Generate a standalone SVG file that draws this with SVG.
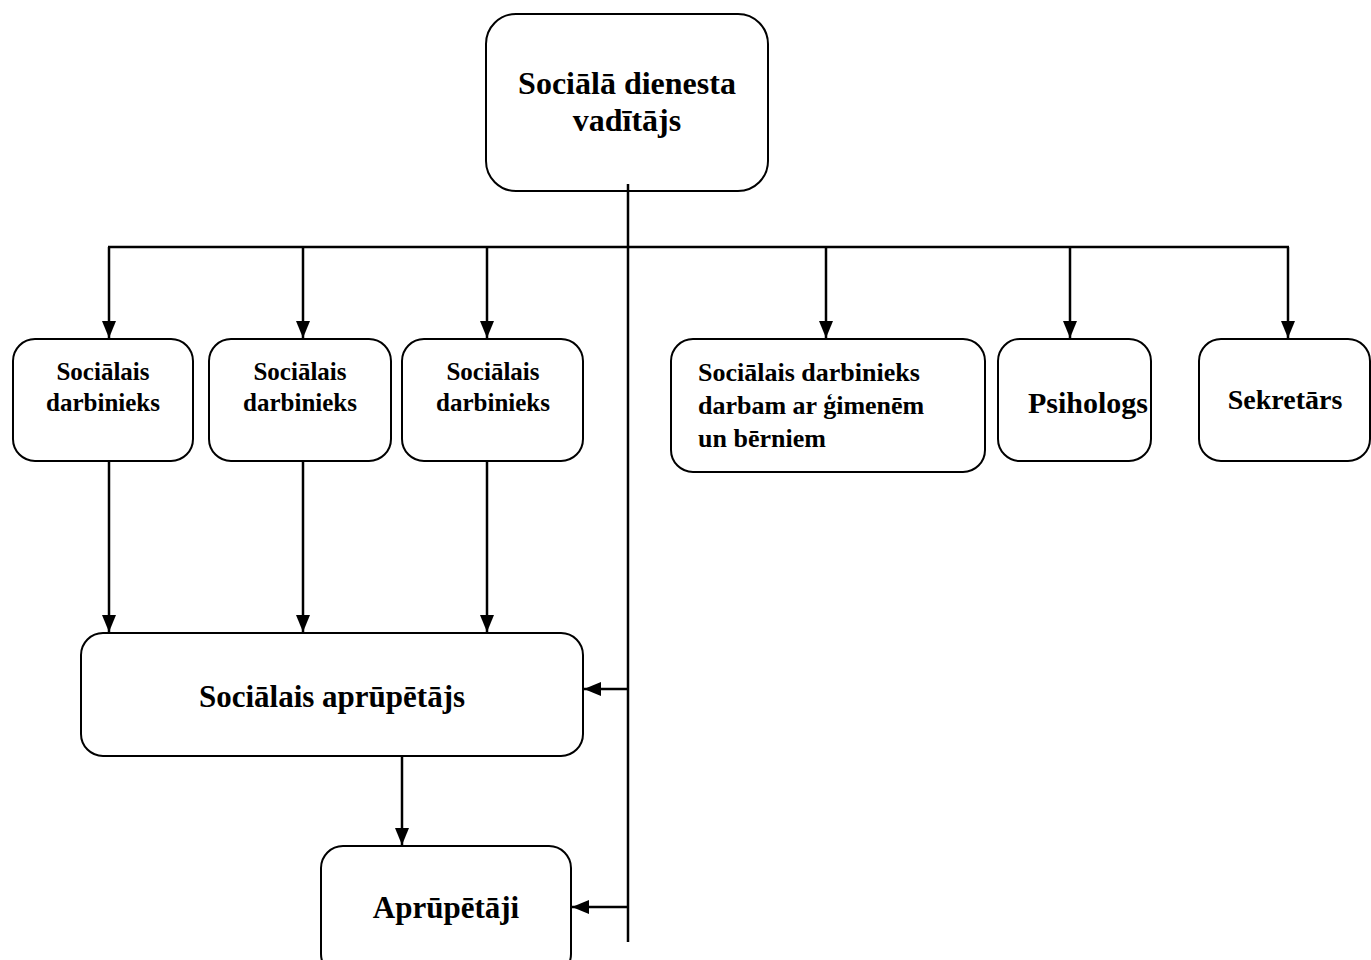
<svg xmlns="http://www.w3.org/2000/svg" width="1371" height="960" viewBox="0 0 1371 960">
<style>
.box{fill:#fff;stroke:#000;stroke-width:2}
.t{font-family:"Liberation Serif","Times New Roman",serif;font-weight:bold;fill:#000}
.c{text-anchor:middle}
.ln{fill:none;stroke:#000;stroke-width:2.5}
</style>
<defs>
<marker id="ah" viewBox="0 0 17 14" refX="17" refY="7" markerWidth="17" markerHeight="14" markerUnits="userSpaceOnUse" orient="auto">
<path d="M0,0 L17,7 L0,14 z" fill="#000"/>
</marker>
</defs>
<rect width="1371" height="960" fill="#fff"/>
<g id="n-vaditajs">
<rect class="box" x="486" y="14" width="282" height="177" rx="30"/>
<text class="t c" x="627" y="94" font-size="32">Sociālā dienesta</text>
<text class="t c" x="627" y="131" font-size="32">vadītājs</text>
</g>
<g id="n-sd1">
<rect class="box" x="13" y="339" width="180" height="122" rx="22"/>
<text class="t c" x="103" y="380" font-size="25">Sociālais</text>
<text class="t c" x="103" y="411" font-size="25">darbinieks</text>
</g>
<g id="n-sd2">
<rect class="box" x="209" y="339" width="182" height="122" rx="22"/>
<text class="t c" x="300" y="380" font-size="25">Sociālais</text>
<text class="t c" x="300" y="411" font-size="25">darbinieks</text>
</g>
<g id="n-sd3">
<rect class="box" x="402" y="339" width="181" height="122" rx="22"/>
<text class="t c" x="493" y="380" font-size="25">Sociālais</text>
<text class="t c" x="493" y="411" font-size="25">darbinieks</text>
</g>
<g id="n-sd4">
<rect class="box" x="671" y="339" width="314" height="133" rx="22"/>
<text class="t" x="698" y="381" font-size="26">Sociālais darbinieks</text>
<text class="t" x="698" y="414" font-size="26">darbam ar ģimenēm</text>
<text class="t" x="698" y="447" font-size="26">un bērniem</text>
</g>
<g id="n-psihologs">
<rect class="box" x="998" y="339" width="153" height="122" rx="22"/>
<text class="t c" x="1088" y="413" font-size="30">Psihologs</text>
</g>
<g id="n-sekretars">
<rect class="box" x="1199" y="339" width="171" height="122" rx="22"/>
<text class="t c" x="1285" y="409" font-size="28">Sekretārs</text>
</g>
<g id="n-aprupetajs">
<rect class="box" x="81" y="633" width="502" height="123" rx="22"/>
<text class="t c" x="332" y="707" font-size="31">Sociālais aprūpētājs</text>
</g>
<g id="n-aprupetaji">
<rect class="box" x="321" y="846" width="250" height="130" rx="22"/>
<text class="t c" x="446" y="918" font-size="31">Aprūpētāji</text>
</g>
<g id="connectors">
<line class="ln" x1="628" y1="184" x2="628" y2="942"/>
<line class="ln" x1="108" y1="247" x2="1289" y2="247"/>
<line class="ln" x1="109" y1="247" x2="109" y2="338" marker-end="url(#ah)"/>
<line class="ln" x1="303" y1="247" x2="303" y2="338" marker-end="url(#ah)"/>
<line class="ln" x1="487" y1="247" x2="487" y2="338" marker-end="url(#ah)"/>
<line class="ln" x1="826" y1="247" x2="826" y2="338" marker-end="url(#ah)"/>
<line class="ln" x1="1070" y1="247" x2="1070" y2="338" marker-end="url(#ah)"/>
<line class="ln" x1="1288" y1="247" x2="1288" y2="338" marker-end="url(#ah)"/>
<line class="ln" x1="109" y1="462" x2="109" y2="632" marker-end="url(#ah)"/>
<line class="ln" x1="303" y1="462" x2="303" y2="632" marker-end="url(#ah)"/>
<line class="ln" x1="487" y1="462" x2="487" y2="632" marker-end="url(#ah)"/>
<line class="ln" x1="628" y1="689" x2="584" y2="689" marker-end="url(#ah)"/>
<line class="ln" x1="402" y1="757" x2="402" y2="845" marker-end="url(#ah)"/>
<line class="ln" x1="628" y1="907" x2="572" y2="907" marker-end="url(#ah)"/>
</g>
</svg>
